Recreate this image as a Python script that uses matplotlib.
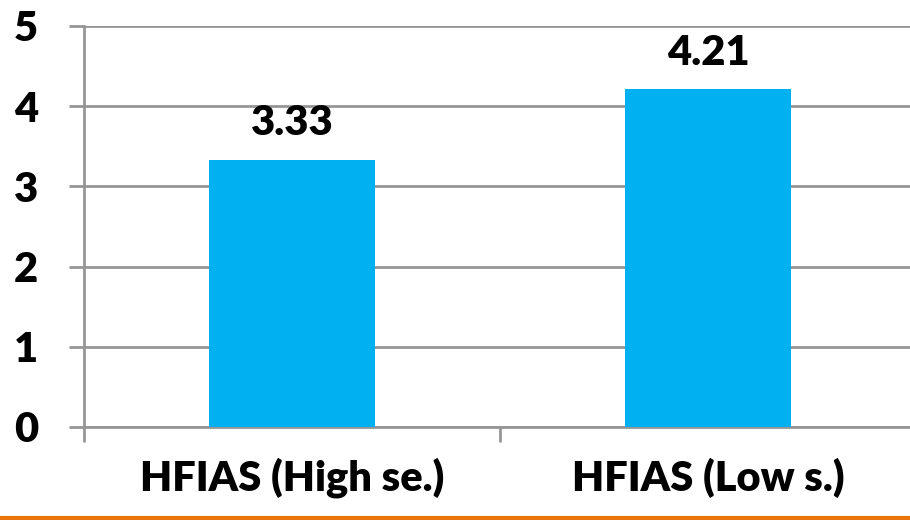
import matplotlib as mpl
import matplotlib.pyplot as plt
from matplotlib.lines import Line2D

categories = ['HFIAS (High se.)', 'HFIAS (Low s.)']
values = [3.33, 4.21]
yticks = [0, 1, 2, 3, 4, 5]

mpl.rcParams['font.family'] = 'Lato'
mpl.rcParams['font.weight'] = 'heavy'

fig = plt.figure(figsize=(9.1, 5.2), dpi=100)
# axes run a little past the right edge of the figure
ax = fig.add_axes([84 / 910, 93 / 520, 832 / 910, 401 / 520])

x = list(range(len(categories)))
ax.bar(x, values, width=0.4, color='#00B0F0', zorder=3)
for xi, v in zip(x, values):
    ax.text(xi, v + 0.22, f'{v:.2f}', ha='center', va='bottom', fontsize=30, fontweight='heavy')

ax.set_xlim(-0.5, len(categories) - 0.5)
ax.set_ylim(0, 5)
ax.set_yticks(yticks)
ax.set_yticklabels([str(t) for t in yticks], fontsize=30, fontweight='heavy')
ax.yaxis.grid(True, color='#969696', linewidth=2, zorder=0)

# category boundaries carry the tick marks, labels sit at the centres
ax.set_xticks([-0.5, 0.5, 1.5])
ax.set_xticklabels([])
ax.set_xticks(x, minor=True)
ax.set_xticklabels(categories, minor=True, fontsize=30, fontweight='heavy')
ax.tick_params(axis='x', which='minor', length=0, pad=22)
ax.tick_params(axis='x', which='major', length=11, width=2, color='#969696', direction='out')
ax.tick_params(axis='y', length=11, width=2, color='#969696', direction='out', pad=22)

for side in ['top', 'right']:
    ax.spines[side].set_visible(False)
for side in ['left', 'bottom']:
    ax.spines[side].set_color('#969696')
    ax.spines[side].set_linewidth(2)

# orange rule along the bottom edge
fig.add_artist(Line2D([0, 1], [0.003, 0.003], color='#E8760C', linewidth=3, transform=fig.transFigure))

plt.savefig('out.png', dpi=100)
plt.close(fig)
